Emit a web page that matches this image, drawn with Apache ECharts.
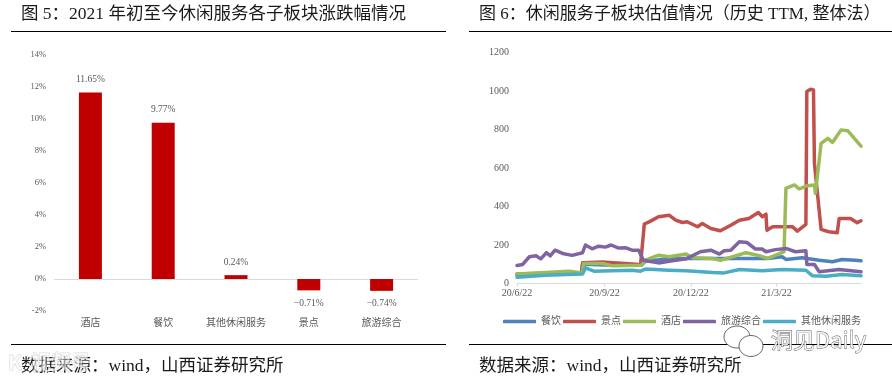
<!DOCTYPE html>
<html><head><meta charset="utf-8">
<style>html,body{margin:0;padding:0;background:#fff}#c{width:892px;height:382px}</style>
<script src="https://cdn.jsdelivr.net/npm/echarts@6/dist/echarts.min.js"></script>
</head><body><div id="c"></div>
<script>
const barCategories = ['酒店','餐饮','其他休闲服务','景点','旅游综合'];
const barValues = [11.65, 9.77, 0.24, -0.71, -0.74];
const barTicks = [-2,0,2,4,6,8,10,12,14];

// x is days since 2020-06-22
const endDay = 362;
const tickDays = [0,92,183,273];
const tickLabels = ['20/6/22','20/9/22','20/12/22','21/3/22'];
const legendNames = ['餐饮','景点','酒店','旅游综合','其他休闲服务'];

const canyinDays = [0,40,68,69,100,131,135,160,200,264,265,279,283,300,318,332,342,356,362];
const canyinVals = [45,52,55,100,95,95,115,130,130,130,139,139,125,134,121,113,125,121,118];
const jingdianDays = [0,40,68,69,90,125,130,134,139,149,160,167,174,179,190,195,204,214,225,234,244,254,258,262,263,269,279,290,295,304,305,309,312,313,320,328,337,339,351,358,362];
const jingdianVals = [50,55,55,108,112,100,97,309,320,347,355,329,317,321,295,312,286,274,303,329,338,369,347,360,277,295,295,295,272,307,997,1009,1006,624,281,269,264,338,338,316,326];
const jiudianDays = [0,30,55,69,70,90,100,131,135,149,160,178,185,206,214,227,241,253,264,281,283,292,297,304,313,314,320,327,332,341,348,362];
const jiudianVals = [50,57,64,55,104,104,92,95,121,147,139,153,134,130,121,139,160,147,130,165,494,512,491,506,512,468,728,754,733,798,794,714];
const lvyouDays = [0,6,13,20,25,31,35,40,48,58,69,72,79,86,93,99,107,114,121,128,133,139,149,160,178,193,204,213,218,225,234,242,251,258,262,272,283,293,304,305,313,318,339,362];
const lvyouVals = [94,99,139,144,128,160,144,173,156,146,160,200,180,194,189,200,184,186,173,173,121,116,107,116,128,165,173,153,170,173,217,213,179,179,165,176,182,165,170,99,99,61,73,61];
const qitaDays = [0,30,69,72,81,100,121,130,135,160,178,206,218,234,258,279,304,311,325,342,362];
const qitaVals = [33,43,49,81,64,66,69,64,75,69,66,57,55,73,66,73,69,40,38,47,40];

const seriesColors = ['#4F81BD','#C0504D','#9BBB59','#8064A2','#4BACC6'];
const SERIF = '"Liberation Serif","Noto Sans CJK SC",serif';
const TEXT = '#595959';
const pairs = (days, vals) => days.map((d, i) => [d, vals[i]]);
const lineData = [[canyinDays,canyinVals],[jingdianDays,jingdianVals],[jiudianDays,jiudianVals],[lvyouDays,lvyouVals],[qitaDays,qitaVals]];

const chart = echarts.init(document.getElementById('c'), null, {renderer:'canvas'});
const heading = (text, left, top, size) => ({text, left, top, padding:0, textStyle:{fontFamily:SERIF, fontSize:size, fontWeight:'normal', color:'#1a1a1a'}});
const rule = (x1,x2,y) => ({type:'line', shape:{x1,y1:y,x2,y2:y}, style:{stroke:'#000', lineWidth:1}, silent:true});

chart.setOption({
  animation:false,
  backgroundColor:'#fff',
  title:[
    heading('图 5：2021 年初至今休闲服务各子板块涨跌幅情况', 21, 6, 17.5),
    heading('图 6：休闲服务子板块估值情况（历史 TTM, 整体法）', 479, 6, 17),
    heading('数据来源：wind，山西证券研究所', 21, 358, 17.5),
    heading('数据来源：wind，山西证券研究所', 479, 358, 17.5)
  ],
  grid:[
    {left:54, top:55, width:364, height:256},
    {left:517, top:52.5, width:344, height:231}
  ],
  xAxis:[
    {type:'category', gridIndex:0, data:barCategories,
     axisLine:{show:false}, axisTick:{show:false},
     axisLabel:{fontFamily:SERIF, fontSize:10, color:TEXT, margin:7, interval:0}},
    {type:'value', gridIndex:1, min:0, max:endDay,
     axisLine:{onZero:false, lineStyle:{color:'#D9D9D9', width:1}},
     axisTick:{show:true, length:3, lineStyle:{color:'#D9D9D9'}, customValues:tickDays},
     splitLine:{show:false},
     axisLabel:{fontFamily:SERIF, fontSize:10, color:TEXT, margin:5, hideOverlap:false,
       customValues:tickDays,
       formatter:v => tickLabels[tickDays.indexOf(+v)] || ''}}
  ],
  yAxis:[
    {type:'value', gridIndex:0, min:barTicks[0], max:barTicks[barTicks.length-1], interval:2,
     axisLine:{show:false}, axisTick:{show:false}, splitLine:{show:false},
     axisLabel:{fontFamily:SERIF, fontSize:8.5, color:TEXT, margin:8, formatter:'{value}%'}},
    {type:'value', gridIndex:1, min:0, max:1200, interval:200,
     axisLine:{show:false}, axisTick:{show:false}, splitLine:{show:false},
     axisLabel:{fontFamily:SERIF, fontSize:10, color:TEXT, margin:8, formatter:v => String(v)}}
  ],
  legend:{
    data:legendNames, left:503, top:316.5, padding:0, itemWidth:33, itemHeight:3.5, itemGap:2,
    icon:'roundRect',
    textStyle:{fontFamily:SERIF, fontSize:10, color:TEXT}
  },
  series:[
    {type:'bar', xAxisIndex:0, yAxisIndex:0, barWidth:23, z:3,
     data:barValues.map(v => ({value:v, label:{position:v<0?'bottom':'top'}})),
     itemStyle:{color:'#C00000'},
     label:{show:true, distance:8, fontFamily:SERIF, fontSize:9.5, color:TEXT,
       formatter:p => p.value.toFixed(2).replace('-','−')+'%'},
     markLine:{silent:true, symbol:'none', z:1, label:{show:false},
       lineStyle:{color:'#D9D9D9', width:1, type:'solid'}, data:[{yAxis:0}]}},
    ...legendNames.map((name,i) => ({
      name, type:'line', xAxisIndex:1, yAxisIndex:1, showSymbol:false, symbol:'none',
      data:pairs(lineData[i][0], lineData[i][1]),
      lineStyle:{color:seriesColors[i], width:3.5, join:'round', cap:'round'},
      itemStyle:{color:seriesColors[i]}
    }))
  ],
  graphic:[
    rule(11,446,31.5), rule(469,892,31.5), rule(11,446,344.5), rule(469,892,344.5),
    {type:'text', silent:true, z:20, style:{x:8, y:352, text:'K  视频号', font:'bold 20px "Noto Sans CJK SC"', fill:'rgba(255,255,255,0.6)', stroke:'rgba(170,170,170,0.45)', lineWidth:1}},
    {type:'ellipse', silent:true, z:20, shape:{cx:737,cy:337,rx:13,ry:11}, style:{fill:'#fff', stroke:'#666', lineWidth:1}},
    {type:'ellipse', silent:true, z:21, shape:{cx:751,cy:346,rx:12,ry:10.5}, style:{fill:'#fff', stroke:'#666', lineWidth:1}},
    {type:'text', silent:true, z:21, style:{x:771, y:329, text:'洞见Daily', font:'22px "Noto Sans CJK SC"', fill:'rgba(255,255,255,0.85)', stroke:'#555', lineWidth:0.8}}
  ]
});
</script></body></html>
